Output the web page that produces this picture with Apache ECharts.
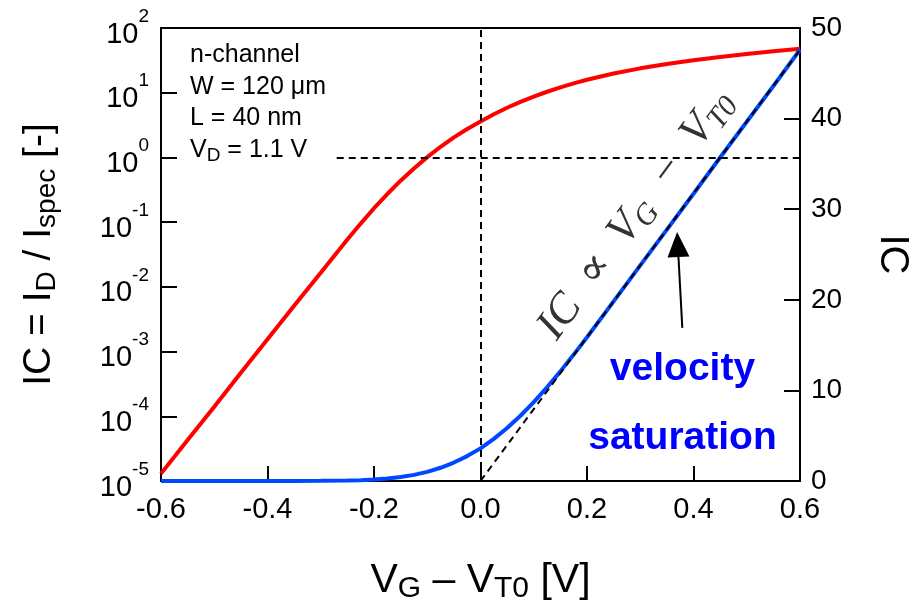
<!DOCTYPE html>
<html>
<head>
<meta charset="utf-8">
<script src="https://cdn.jsdelivr.net/npm/echarts@6/dist/echarts.min.js"></script>
<style>
  html, body { margin: 0; padding: 0; background: #fff; }
  #chart { width: 914px; height: 607px; }
</style>
</head>
<body>
<div id="chart"></div>
<script>
// gate overdrive V_G - V_T0 [V]
const vov = [-0.6, -0.55, -0.5, -0.45, -0.4, -0.35, -0.3, -0.25, -0.225, -0.2, -0.175, -0.15, -0.125,
             -0.1, -0.075, -0.05, -0.025, 0.0, 0.025, 0.05, 0.075, 0.1, 0.125, 0.15, 0.175, 0.2, 0.25, 0.3,
             0.35, 0.4, 0.45, 0.5, 0.55, 0.6];
// inversion coefficient IC = I_D / I_spec
const ic = [1.3e-5, 4.3e-5, 1.4e-4, 4.7e-4, 1.55e-3, 5.1e-3, 0.0165, 0.054, 0.095, 0.164, 0.272, 0.437, 0.676,
            1.01, 1.46, 2.04, 2.75, 3.6, 4.65, 5.85, 7.2, 8.7, 10.35, 12.1, 13.95, 15.87, 19.83, 23.8,
            27.75, 31.7, 35.7, 39.65, 43.6, 47.6];
// straight line IC ∝ V_G - V_T0
const fitV = [0.0, 0.6];
const fitIC = [0, 47.6];
// arrow pointing at the velocity saturation region (V, IC on right axis)
const arrowFrom = [0.379, 16.9];
const arrowTo = [0.3705, 26.1];
// inset text lines
const insetLines = ['n-channel', 'W = 120 \u03bcm', 'L = 40 nm', 'V{sub|D} = 1.1 V'];

const FONT = 'Liberation Sans, Arial, Helvetica, sans-serif';

const curve = vov.map((v, i) => [v, ic[i]]);
const fit = fitV.map((v, i) => [v, fitIC[i]]);

const chart = echarts.init(document.getElementById('chart'));

const option = {
    animation: false,
    backgroundColor: '#fff',
    grid: {
        left: 161, right: 114, top: 28, bottom: 126,
        show: true, borderColor: '#000', borderWidth: 2,
        containLabel: false, outerBoundsMode: 'none'
    },
    xAxis: {
        type: 'value',
        min: -0.6, max: 0.6, interval: 0.2,
        axisLine: { show: true, onZero: false, lineStyle: { color: '#000', width: 2 } },
        axisTick: { show: true, inside: true, length: 15, lineStyle: { color: '#000', width: 2 } },
        splitLine: { show: false },
        axisLabel: {
            color: '#000', fontSize: 29, fontFamily: FONT, margin: 14,
            formatter: function (v) { return Math.abs(v) < 1e-9 ? '0.0' : v.toFixed(1); }
        },
        name: 'V{sub|G} \u2013 V{sub|T0} [V]',
        nameLocation: 'middle',
        nameGap: 77,
        nameTextStyle: {
            color: '#000', fontSize: 41, fontFamily: FONT, lineHeight: 46,
            rich: { sub: { fontSize: 30, fontFamily: FONT, color: '#000', lineHeight: 24, verticalAlign: 'bottom' } }
        }
    },
    yAxis: [{
        type: 'log', logBase: 10,
        min: 1e-5, max: 100, splitNumber: 7,
        position: 'left',
        axisLine: { show: true, onZero: false, lineStyle: { color: '#000', width: 2 } },
        axisTick: { show: true, inside: true, length: 16, lineStyle: { color: '#000', width: 2 } },
        splitLine: { show: false },
        axisLabel: {
            margin: 12,
            formatter: function (v) {
                const e = Math.round(Math.log10(v));
                return '{b|10}{s|' + e + '}';
            },
            rich: {
                b: { fontSize: 29, fontFamily: FONT, color: '#000', lineHeight: 42, verticalAlign: 'bottom' },
                s: { fontSize: 19, fontFamily: FONT, color: '#000', lineHeight: 16, verticalAlign: 'top' }
            }
        },
        name: 'IC = I{sub|D} / I{sub|spec} [-]',
        nameLocation: 'middle',
        nameGap: 100,
        nameTextStyle: {
            color: '#000', fontSize: 39, fontFamily: FONT, lineHeight: 44,
            rich: { sub: { fontSize: 28, fontFamily: FONT, color: '#000', lineHeight: 24, verticalAlign: 'bottom' } }
        }
    }, {
        type: 'value',
        min: 0, max: 50, interval: 10,
        position: 'right',
        axisLine: { show: true, onZero: false, lineStyle: { color: '#000', width: 2 } },
        axisTick: { show: true, inside: true, length: 16, lineStyle: { color: '#000', width: 2 } },
        splitLine: { show: false },
        axisLabel: { color: '#000', fontSize: 28, fontFamily: FONT, margin: 11 },
        name: 'IC',
        nameLocation: 'middle',
        nameRotate: -90,
        nameGap: 72,
        nameTextStyle: { color: '#000', fontSize: 40, fontFamily: FONT }
    }],
    series: [{
        name: 'IC log',
        type: 'line',
        xAxisIndex: 0, yAxisIndex: 0,
        data: curve,
        showSymbol: false,
        lineStyle: { color: '#ff0000', width: 4 },
        z: 3,
        markLine: {
            silent: true, symbol: 'none', animation: false,
            label: { show: false },
            lineStyle: { color: '#000', width: 2, type: [7, 5] },
            data: [
                { xAxis: 0 },
                [{ coord: [-0.27, 1] }, { coord: [0.6, 1] }]
            ]
        }
    }, {
        name: 'IC lin',
        type: 'line',
        xAxisIndex: 0, yAxisIndex: 1,
        data: curve,
        showSymbol: false,
        lineStyle: { color: '#0048ff', width: 4 },
        z: 3
    }, {
        name: 'fit',
        type: 'line',
        xAxisIndex: 0, yAxisIndex: 1,
        data: fit,
        showSymbol: false,
        lineStyle: { color: '#000', width: 2, type: [7, 5] },
        z: 4,
        markLine: {
            silent: true, animation: false,
            symbol: ['none', 'triangle'],
            symbolSize: [22, 25],
            label: { show: false },
            lineStyle: { color: '#000', width: 2, type: 'solid' },
            itemStyle: { color: '#000' },
            data: [[{ coord: arrowFrom }, { coord: arrowTo }]]
        }
    }]
};
chart.setOption(option);

// annotations placed through the axes' own scales
const px = (v, y) => chart.convertToPixel({ xAxisIndex: 0, yAxisIndex: 1 }, [v, y]);
const a = px(fitV[0], fitIC[0]);
const b = px(fitV[1], fitIC[1]);
const ang = Math.atan2(a[1] - b[1], b[0] - a[0]);
const lab = px(0.292, 29.4);
const vs1 = px(0.3793, 12.36);
const vs2 = px(0.3793, 4.75);

const graphic = [{
    type: 'text', x: lab[0], y: lab[1], rotation: ang, z: 10,
    style: {
        text: 'IC  \u221d  V{s|G}  \u2212  V{s|T0}',
        fontSize: 44, fontFamily: 'Liberation Serif, DejaVu Serif, serif', fontStyle: 'italic',
        fill: '#333', align: 'center', verticalAlign: 'middle', lineHeight: 50,
        rich: { s: { fontSize: 30, fontFamily: 'Liberation Serif, DejaVu Serif, serif', fontStyle: 'italic',
                     fill: '#333', lineHeight: 30, verticalAlign: 'bottom' } }
    }
}, {
    type: 'text', x: vs1[0], y: vs1[1], z: 10,
    style: { text: 'velocity', fontSize: 39, fontWeight: 'bold', fontFamily: FONT, fill: '#0000ff',
             align: 'center', verticalAlign: 'middle' }
}, {
    type: 'text', x: vs2[0], y: vs2[1], z: 10,
    style: { text: 'saturation', fontSize: 39, fontWeight: 'bold', fontFamily: FONT, fill: '#0000ff',
             align: 'center', verticalAlign: 'middle' }
}];
insetLines.forEach(function (t, i) {
    graphic.push({
        type: 'text', x: 190, y: 55 + i * 31.7, z: 10,
        style: {
            text: t, fontSize: 25, fontFamily: FONT, fill: '#000',
            align: 'left', verticalAlign: 'middle', lineHeight: 30,
            rich: { sub: { fontSize: 19, fontFamily: FONT, fill: '#000', lineHeight: 20, verticalAlign: 'bottom' } }
        }
    });
});
chart.setOption({ graphic: graphic });
</script>
</body>
</html>
